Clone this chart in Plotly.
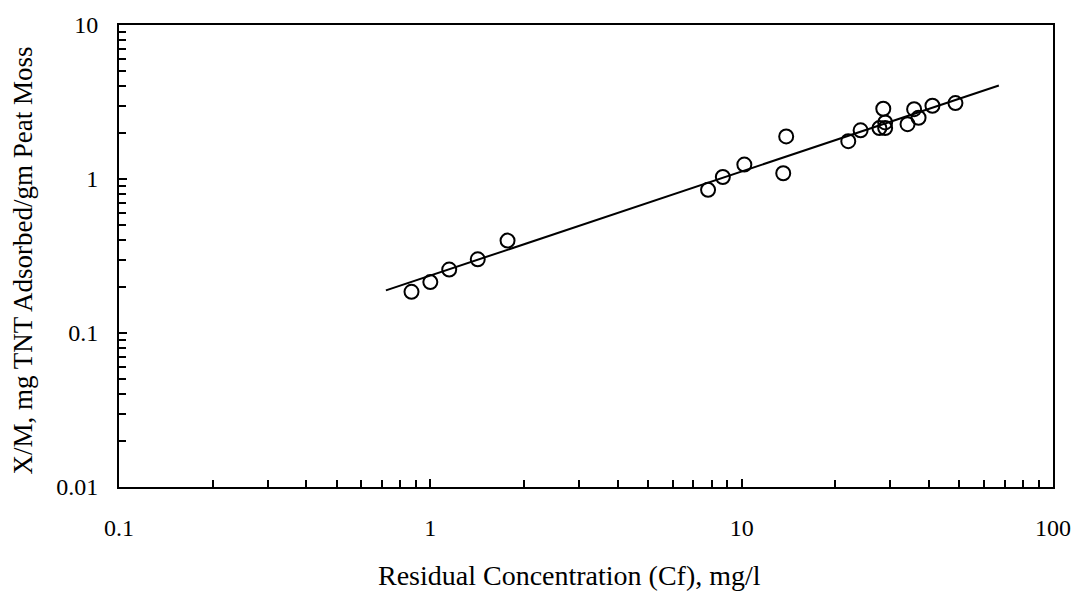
import numpy as np
import plotly.graph_objects as go

# Residual concentration Cf (mg/l) and uptake X/M (mg TNT / gm peat moss)
cf = [0.87, 1.00, 1.15, 1.42, 1.77,
      7.8, 8.7, 10.2, 13.6, 13.9,
      22.0, 24.1, 27.7, 28.5, 28.9, 28.9,
      34.1, 35.8, 37.0, 41.0, 48.6]
xm = [0.185, 0.214, 0.258, 0.301, 0.398,
      0.85, 1.03, 1.24, 1.09, 1.89,
      1.76, 2.07, 2.14, 2.86, 2.14, 2.33,
      2.27, 2.84, 2.50, 2.99, 3.11]

# Freundlich fit X/M = K * Cf^(1/n), drawn over the fitted range
fit_K = 0.236
fit_inv_n = 0.676
fit_range = [0.72, 67.0]

x_ticks = [0.1, 1, 10, 100]
x_ticklabels = ["0.1", "1", "10", "100"]
y_ticks = [0.01, 0.1, 1, 10]
y_ticklabels = ["0.01", "0.1", "1", "10"]

fit_x = np.array(fit_range)
fit_y = fit_K * fit_x ** fit_inv_n

FONT = "Liberation Serif, Times New Roman, serif"

fig = go.Figure()
fig.add_trace(go.Scatter(
    x=fit_x, y=fit_y, mode="lines",
    line=dict(color="black", width=2), showlegend=False,
))
fig.add_trace(go.Scatter(
    x=cf, y=xm, mode="markers",
    marker=dict(symbol="circle-open", size=14, color="black",
                line=dict(color="black", width=2)),
    showlegend=False,
))

axis_common = dict(
    type="log", showgrid=False, zeroline=False,
    showline=True, linecolor="black", linewidth=2, mirror=True,
    ticks="inside", ticklen=8, tickwidth=1.5, tickcolor="black",
    minor=dict(ticks="inside", ticklen=7, tickwidth=1.5,
               tickcolor="black", dtick="D1", showgrid=False),
    tickfont=dict(family=FONT, size=24, color="black"),
)

fig.update_xaxes(range=[-1, 2], tickvals=x_ticks, ticktext=x_ticklabels,
                 ticklabelstandoff=18, **axis_common)
fig.update_yaxes(range=[-2, 1], tickvals=y_ticks, ticktext=y_ticklabels,
                 ticklabelstandoff=14, **axis_common)

fig.add_annotation(
    text="Residual Concentration (Cf), mg/l",
    xref="paper", yref="paper", x=0.4824, y=0,
    xanchor="center", yanchor="middle", yshift=-88, showarrow=False,
    font=dict(family=FONT, size=28, color="black"),
)
fig.add_annotation(
    text="X/M, mg TNT Adsorbed/gm Peat Moss",
    xref="paper", yref="paper", x=0, y=0.49, textangle=-90,
    xanchor="center", yanchor="middle", xshift=-96, showarrow=False,
    font=dict(family=FONT, size=27, color="black"),
)

fig.update_layout(
    width=1083, height=594,
    margin=dict(l=119, r=25, t=22, b=107),
    paper_bgcolor="white", plot_bgcolor="white",
)

fig.write_html("out.html")
